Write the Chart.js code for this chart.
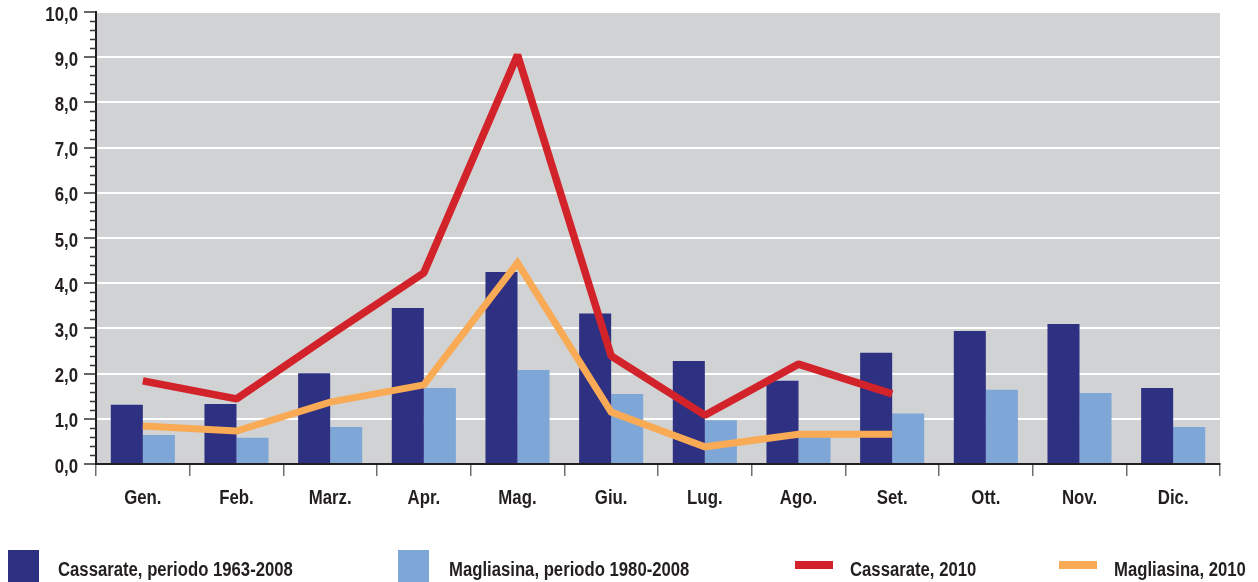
<!DOCTYPE html>
<html lang="it">
<head>
<meta charset="UTF-8">
<title>Cassarate e Magliasina</title>
<script src="https://cdn.jsdelivr.net/npm/chart.js@4.4.1/dist/chart.umd.min.js"></script>
<style>
    body {
        margin: 0;
        background: #ffffff;
    }
    #wrap {
        position: relative;
        width: 1258px;
        height: 582px;
        overflow: hidden;
    }
    #legend .txt {
        position: absolute;
        font: bold 20px 'Liberation Sans', Arial, sans-serif;
        line-height: 20px;
        color: #231f20;
        white-space: nowrap;
        transform: scaleX(0.835);
        transform-origin: 0 0;
    }
    #legend .key {
        position: absolute;
    }
</style>
</head>
<body>
<div id="wrap">
    <canvas id="myChart" width="1258" height="582"></canvas>
    <div id="legend"></div>
</div>

<script>
    // values
    var months = ['Gen.', 'Feb.', 'Marz.', 'Apr.', 'Mag.', 'Giu.', 'Lug.', 'Ago.', 'Set.', 'Ott.', 'Nov.', 'Dic.'];
    var cassarateMedia = [1.31, 1.33, 2.01, 3.45, 4.25, 3.33, 2.28, 1.84, 2.46, 2.94, 3.10, 1.68];
    var magliasinaMedia = [0.64, 0.58, 0.82, 1.68, 2.08, 1.55, 0.97, 0.62, 1.12, 1.64, 1.57, 0.82];
    var cassarate2010 = [1.84, 1.44, 2.85, 4.23, 9.05, 2.39, 1.08, 2.21, 1.55, null, null, null];
    var magliasina2010 = [0.84, 0.73, 1.37, 1.75, 4.45, 1.15, 0.38, 0.66, 0.66, null, null, null];
    var yMin = 0, yMax = 10, yStep = 1, yMinorStep = 0.2;

    // the original type is a condensed bold, so the text is squeezed a bit
    var labelFont = "bold 20px 'Liberation Sans', Arial, sans-serif";
    var squeeze = 0.84;
    var inkColor = '#231f20';

    function fmt(v) {
        return v.toFixed(1).replace('.', ',');
    }

    // grey plot area, small ticks on the y axis and the axis labels
    var plotBack = {
        id: 'plotBack',
        beforeDraw: function (chart) {
            var ctx = chart.ctx, a = chart.chartArea;
            ctx.save();
            ctx.fillStyle = '#d1d2d4';
            ctx.fillRect(a.left, a.top, a.right - a.left, a.bottom - a.top);
            ctx.restore();
        },
        afterDraw: function (chart) {
            var ctx = chart.ctx, a = chart.chartArea;
            var x = chart.scales.x, y = chart.scales.y;
            ctx.save();
            ctx.strokeStyle = '#333333';
            ctx.lineWidth = 1.5;
            var n = Math.round((yMax - yMin) / yMinorStep);
            for (var i = 0; i <= n; i++) {
                if (i % 5 === 0) continue;
                var py = Math.round(y.getPixelForValue(yMin + i * yMinorStep)) + 0.5;
                ctx.beginPath();
                ctx.moveTo(a.left - 6, py);
                ctx.lineTo(a.left, py);
                ctx.stroke();
            }

            ctx.font = labelFont;
            ctx.fillStyle = inkColor;
            ctx.textBaseline = 'middle';
            ctx.textAlign = 'right';
            y.ticks.forEach(function (t) {
                ctx.save();
                ctx.translate(a.left - 18, y.getPixelForValue(t.value) + 3);
                ctx.scale(squeeze, 1);
                ctx.fillText(fmt(t.value), 0, 0);
                ctx.restore();
            });

            ctx.textBaseline = 'alphabetic';
            ctx.textAlign = 'center';
            x.ticks.forEach(function (t, i) {
                ctx.save();
                ctx.translate(x.getPixelForTick(i), 504);
                ctx.scale(squeeze, 1);
                ctx.fillText(chart.data.labels[t.value], 0, 0);
                ctx.restore();
            });
            ctx.restore();
        }
    };

    var datasets = [
        {
            type: 'line',
            label: 'Cassarate, 2010',
            data: cassarate2010,
            borderColor: '#d2232a',
            backgroundColor: '#d2232a',
            borderWidth: 7.5,
            pointRadius: 0,
            tension: 0,
            borderJoinStyle: 'bevel',
            order: 0
        },
        {
            type: 'line',
            label: 'Magliasina, 2010',
            data: magliasina2010,
            borderColor: '#f9aa55',
            backgroundColor: '#f9aa55',
            borderWidth: 7,
            pointRadius: 0,
            tension: 0,
            borderJoinStyle: 'miter',
            order: 1
        },
        {
            type: 'bar',
            label: 'Cassarate, periodo 1963-2008',
            data: cassarateMedia,
            backgroundColor: '#2e3082',
            barPercentage: 1.0,
            categoryPercentage: 0.684,
            order: 2
        },
        {
            type: 'bar',
            label: 'Magliasina, periodo 1980-2008',
            data: magliasinaMedia,
            backgroundColor: '#7ea7d8',
            barPercentage: 1.0,
            categoryPercentage: 0.684,
            order: 3
        }
    ];

    var ctx = document.getElementById('myChart').getContext('2d');
    var myChart = new Chart(ctx, {
        data: { labels: months, datasets: datasets },
        options: {
            responsive: false,
            animation: false,
            layout: { padding: { top: 12, right: 38, left: 0, bottom: 0 } },
            plugins: {
                legend: { display: false },
                tooltip: { enabled: false }
            },
            scales: {
                x: {
                    offset: true,
                    grid: {
                        offset: true,
                        drawOnChartArea: false,
                        tickLength: 12,
                        tickColor: '#6d6e71',
                        lineWidth: 1.5
                    },
                    border: { color: inkColor, width: 2 },
                    ticks: { display: false },
                    afterFit: function (scale) { scale.height = 118; }
                },
                y: {
                    min: yMin,
                    max: yMax,
                    grid: {
                        color: '#ffffff',
                        lineWidth: 2,
                        tickLength: 12,
                        tickColor: '#333333',
                        tickWidth: 1.5
                    },
                    border: { color: inkColor, width: 2 },
                    ticks: { display: false, stepSize: yStep },
                    afterFit: function (scale) { scale.width = 96; }
                }
            }
        },
        plugins: [plotBack]
    });

    // legend at the bottom, in the order of the picture
    var legendSpots = [
        { ds: 2, key: [8, 550, 31, 32], text: [58, 559] },
        { ds: 3, key: [398, 550, 31, 32], text: [449, 559] },
        { ds: 0, key: [795, 561, 38, 8], text: [850, 559] },
        { ds: 1, key: [1059, 561, 38, 8], text: [1114, 559] }
    ];
    var legend = document.getElementById('legend');
    legendSpots.forEach(function (s) {
        var d = myChart.data.datasets[s.ds];
        var key = document.createElement('div');
        key.className = 'key';
        key.style.left = s.key[0] + 'px';
        key.style.top = s.key[1] + 'px';
        key.style.width = s.key[2] + 'px';
        key.style.height = s.key[3] + 'px';
        key.style.background = d.backgroundColor;
        legend.appendChild(key);
        var t = document.createElement('div');
        t.className = 'txt';
        t.style.left = s.text[0] + 'px';
        t.style.top = s.text[1] + 'px';
        t.textContent = d.label;
        legend.appendChild(t);
    });
</script>
</body>
</html>
